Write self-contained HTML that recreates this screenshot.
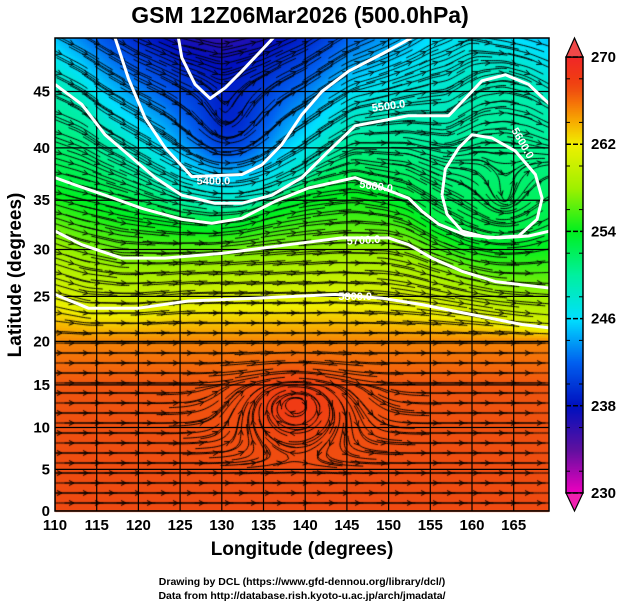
<!DOCTYPE html>
<html><head><meta charset="utf-8"><style>
body{margin:0;background:#fff;width:619px;height:605px;overflow:hidden;font-family:"Liberation Sans",sans-serif}
#wrap{position:relative;width:619px;height:605px}
canvas,svg{position:absolute;left:0;top:0}
</style></head><body>
<div id="wrap">
<canvas id="cv" width="619" height="605"></canvas>
<svg id="sv" width="619" height="605"></svg>
</div>
<script>
// ---- data ----
const lonTicks=[110,115,120,125,130,135,140,145,150,155,160,165];
const latTicks=[0,5,10,15,20,25,30,35,40,45];
const cbTicks=[270,262,254,246,238,230];
const topLon=[110,115,120,125,130,135,140,145,150,155,160,165,170];
const topT=[245,242,239,237,236,237,239,242,244,246,247,246,245];
const c5300Lon=[124.8,125.2,126.8,128.6,130.4,132.4,136.2];
const c5300Lat=[49.4,47.8,45.6,44.4,45.3,46.7,49.4];
const c5400Lon=[117.2,118.8,120.8,123.2,126.4,132.4,134.8,137.2,139.6,142,145.2,149.2,152.8];
const c5400Lat=[49.4,46.1,42.7,40.0,37.3,37.5,38.4,40.3,43.0,45.0,46.7,48.1,49.4];
const c5500Lon=[110,113.2,116,119.2,122,125.2,129.2,132.4,136,139.6,142.8,146,152.4,157.2,159.2,161.2,164,166.8,169.3];
const c5500Lat=[45.6,43.9,41.2,39.1,37.2,35.5,34.7,34.7,35.5,37.2,39.7,42.0,42.9,42.9,44.4,45.9,46.4,45.6,43.9];
const c5600Lon=[110,112.4,116,120.4,125.2,128.8,132.4,136.4,140.4,146,152.4,154,156,159.2,163.2,166.8,169.3];
const c5600Lat=[37.2,36.5,35.5,34.2,33.1,32.7,33.2,34.9,36.2,37.2,35.2,33.9,32.6,31.5,31.2,31.4,31.9];
const ringLon=[156.4,156.8,158.4,160,162.4,165.2,167.6,168.4,167.8,165.6,162,158.8,157,156.4];
const ringLat=[35.5,38.0,40.0,41.2,40.9,39.7,37.5,35.2,33.1,31.4,31.2,31.9,33.6,35.5];
const c5700Lon=[110,113.2,118,123.2,130,138,144.4,150,152.4,155.2,158.8,162.8,169.3];
const c5700Lat=[31.9,30.5,29.1,29.1,29.6,30.5,31.2,31.2,30.5,29.1,27.7,26.6,25.9];
const c5800Lon=[110,114,120,126,134,143.6,149.2,154,160,166,169.3];
const c5800Lat=[25.2,23.7,23.7,24.5,24.8,25.2,24.8,24.1,23.0,21.9,21.5];
const contourT=[249,253,257,261];
const labelText=["5400.0","5500.0","5600.0","5700.0","5800.0","5600.0"];
const labelLon=[129,150,148.5,147,146,166];
const labelLat=[36.8,43.7,36.3,30.9,24.9,40.4];
// ---- axes ----
const L=55,R=549,T=38,B=511;
const xOf=lon=>L+(lon-110)*8.34;
const yOf=lat=>B-476*Math.log(Math.tan(Math.PI/4+lat*Math.PI/360));
const lonOf=x=>110+(x-L)/8.34;
const latOf=y=>(2*Math.atan(Math.exp((B-y)/476))-Math.PI/2)*180/Math.PI;
const cbY=v=>57+(270-v)*(436/40);
function interp(xs,ys,x){if(x<=xs[0])return ys[0];for(let i=1;i<xs.length;i++){if(x<=xs[i]){const t=(x-xs[i-1])/(xs[i]-xs[i-1]);return ys[i-1]+t*(ys[i]-ys[i-1]);}}return ys[ys.length-1];}
const stops=[[230,240,0,192],[234,96,16,160],[238,0,16,192],[242,0,96,240],[246,0,224,255],[250,0,240,160],[254,0,240,32],[258,160,240,0],[262,240,240,0],[264,248,176,0],[266,245,110,10],[267,240,80,16],[268,240,60,20],[270,240,40,40]];
function col(v){if(v<=230)return stops[0].slice(1);for(let i=1;i<stops.length;i++){if(v<=stops[i][0]){const a=stops[i-1],b=stops[i],t=(v-a[0])/(b[0]-a[0]);return [a[1]+t*(b[1]-a[1]),a[2]+t*(b[2]-a[2]),a[3]+t*(b[3]-a[3])];}}return stops[stops.length-1].slice(1);}
function field(x,y){const lon=lonOf(x),lat=latOf(y);
 const pts=[[T,interp(topLon,topT,lon)],[yOf(interp(c5500Lon,c5500Lat,lon)),contourT[0]],[yOf(interp(c5600Lon,c5600Lat,lon)),contourT[1]],[yOf(interp(c5700Lon,c5700Lat,lon)),contourT[2]],[yOf(interp(c5800Lon,c5800Lat,lon)),contourT[3]],[yOf(20),265.3],[yOf(15),266.8],[B,267.3]];
 pts.sort((a,b)=>a[0]-b[0]);
 let v=pts[pts.length-1][1];
 for(let i=1;i<pts.length;i++){if(y<=pts[i][0]){const t=(y-pts[i-1][0])/Math.max(1,pts[i][0]-pts[i-1][0]);v=pts[i-1][1]+Math.max(0,Math.min(1,t))*(pts[i][1]-pts[i-1][1]);break;}}
 v-=4*Math.exp(-(((lon-131)/5)**2+((lat-41)/4)**2));
 v+=1.2*Math.exp(-(((lon-139)/6)**2+((lat-13)/4)**2));
 return v;}
// ---- draw field ----
const cv=document.getElementById('cv'),ctx=cv.getContext('2d');
const S=2,GW=Math.ceil((R-L)/S),GH=Math.ceil((B-T)/S),F=[];
for(let j=0;j<GH;j++){F[j]=[];for(let i=0;i<GW;i++){const v=field(L+i*S+1,T+j*S+1);F[j][i]=v;const c=col(v);ctx.fillStyle=`rgb(${c[0]|0},${c[1]|0},${c[2]|0})`;ctx.fillRect(L+i*S,T+j*S,S,S);}}
// streamlines
function vel(x,y){const i=Math.max(3,Math.min(GW-4,Math.round((x-L)/S))),j=Math.max(3,Math.min(GH-4,Math.round((y-T)/S)));
 const gx=F[j][i+3]-F[j][i-3],gy=F[j+3][i]-F[j-3][i];const m=Math.hypot(gx,gy)+0.05;
 let vx=gy/m+0.4,vy=-gx/m;
 const dx=x-505,dy=y-200,r=Math.hypot(dx,dy)+1,w=1.5*Math.exp(-(r*r)/3000);
 vx+=dy/r*w;vy+=-dx/r*w;
 const n=Math.hypot(vx,vy)+1e-6;return [vx/n,vy/n];}
ctx.save();ctx.beginPath();ctx.rect(L,T,R-L,B-T);ctx.clip();
ctx.strokeStyle='#000';ctx.lineWidth=1;
let row=0;
for(let sy=T+5;sy<B;sy+=10){row++;for(let sx=L+4+(row%2)*12;sx<R;sx+=26){
 let pts=[[sx,sy]];let x=sx,y=sy;for(let k=0;k<18;k++){const v=vel(x,y);x+=v[0]*1.8;y+=v[1]*1.8;pts.push([x,y]);}
 x=sx;y=sy;const back=[];for(let k=0;k<18;k++){const v=vel(x,y);x-=v[0]*1.8;y-=v[1]*1.8;back.unshift([x,y]);}
 pts=back.concat(pts);ctx.beginPath();ctx.moveTo(pts[0][0],pts[0][1]);for(const p of pts)ctx.lineTo(p[0],p[1]);ctx.stroke();
 const v=vel(sx,sy);const ax=sx+v[0]*3,ay=sy+v[1]*3;ctx.beginPath();
 ctx.moveTo(ax-v[0]*5-v[1]*2.5,ay-v[1]*5+v[0]*2.5);ctx.lineTo(ax,ay);ctx.lineTo(ax-v[0]*5+v[1]*2.5,ay-v[1]*5-v[0]*2.5);ctx.stroke();}}
ctx.restore();
// colorbar
for(let y=57;y<493;y++){const c=col(270-(y-57)/(436/40));ctx.fillStyle=`rgb(${c[0]|0},${c[1]|0},${c[2]|0})`;ctx.fillRect(566,y,17,1);}
// ---- svg overlay ----
const NS='http://www.w3.org/2000/svg',sv=document.getElementById('sv');
function mk(tag,at,parent){const e=document.createElementNS(NS,tag);for(const k in at)e.setAttribute(k,at[k]);(parent||sv).appendChild(e);return e;}
const clip=mk('clipPath',{id:'pc'});mk('rect',{x:L,y:T,width:R-L,height:B-T},clip);
const grid=mk('g',{'clip-path':'url(#pc)',stroke:'#000','stroke-width':1.2});


lonTicks.forEach(lon=>{const l=mk('line',{x1:xOf(lon),x2:xOf(lon),y1:T,y2:B},grid);});
latTicks.forEach(lat=>{const l=mk('line',{y1:yOf(lat),y2:yOf(lat),x1:L,x2:R},grid);});
const cg=mk('g',{'clip-path':'url(#pc)',fill:'none',stroke:'#fff','stroke-width':3,'stroke-linejoin':'round'});
const contours=[['contour-5300',c5300Lon,c5300Lat],['contour-5400',c5400Lon,c5400Lat],['contour-5500',c5500Lon,c5500Lat],['contour-5600',c5600Lon,c5600Lat],['contour-5600-ring',ringLon,ringLat],['contour-5700',c5700Lon,c5700Lat],['contour-5800',c5800Lon,c5800Lat]];
contours.forEach(c=>{const p=mk('polyline',{points:c[1].map((lo,i)=>xOf(lo).toFixed(1)+','+yOf(c[2][i]).toFixed(1)).join(' ')},cg);
 
 });
const rot=[0,-8,8,-3,0,60];
labelText.forEach((t,i)=>{const x=xOf(labelLon[i]),y=yOf(labelLat[i]);const e=mk('text',{x:x,y:y,fill:'#fff','font-size':11,'font-weight':'bold','text-anchor':'middle','dominant-baseline':'middle',transform:`rotate(${rot[i]} ${x} ${y})`});e.textContent=t;
 
 });
const fr=mk('rect',{x:L,y:T,width:R-L,height:B-T,fill:'none',stroke:'#000','stroke-width':1.5});


lonTicks.forEach(lon=>{const e=mk('text',{x:xOf(lon),y:B+19,'font-size':15,'font-weight':'bold','text-anchor':'middle'});e.textContent=lon;
 
 });
latTicks.forEach(lat=>{const e=mk('text',{x:L-5,y:yOf(lat)+5,'font-size':15,'font-weight':'bold','text-anchor':'end'});e.textContent=lat;
 
 });
// colorbar frame & triangles
const cbf=mk('rect',{x:566,y:57,width:17,height:436,fill:'none',stroke:'#000','stroke-width':1.5});


const t1=mk('polygon',{points:'566,57 583,57 574.5,38',fill:'#f04848',stroke:'#000','stroke-width':1.2});


const t2=mk('polygon',{points:'566,493 583,493 574.5,511',fill:'#f020b0',stroke:'#000','stroke-width':1.2});


cbTicks.forEach(v=>{mk('line',{x1:566,x2:583,y1:cbY(v),y2:cbY(v),stroke:'#000','stroke-width':1.5,'stroke-dasharray':'5 2'});
 const e=mk('text',{x:591,y:cbY(v)+5,'font-size':15,'font-weight':'bold'});e.textContent=v;
 
 });
for(let v=232;v<270;v+=4){mk('line',{x1:566,x2:570,y1:cbY(v),y2:cbY(v),stroke:'#000'});mk('line',{x1:579,x2:583,y1:cbY(v),y2:cbY(v),stroke:'#000'});}
</script>
<svg width="619" height="605" style="position:absolute;left:0;top:0;pointer-events:none">
<text x="300" y="23" font-size="23" font-weight="bold" text-anchor="middle" font-family="Liberation Sans, sans-serif">GSM 12Z06Mar2026 (500.0hPa)</text>
<text x="302" y="555" font-size="19" font-weight="bold" text-anchor="middle" font-family="Liberation Sans, sans-serif">Longitude (degrees)</text>
<text transform="translate(21,275) rotate(-90)" font-size="19" font-weight="bold" text-anchor="middle" font-family="Liberation Sans, sans-serif">Latitude  (degrees)</text>
<text x="302" y="585" font-size="10.5" font-weight="bold" text-anchor="middle" font-family="Liberation Sans, sans-serif">Drawing by DCL (https://www.gfd-dennou.org/library/dcl/)</text>
<text x="302" y="599" font-size="10.5" font-weight="bold" text-anchor="middle" font-family="Liberation Sans, sans-serif">Data from http://database.rish.kyoto-u.ac.jp/arch/jmadata/</text>
</svg>
</body></html>
